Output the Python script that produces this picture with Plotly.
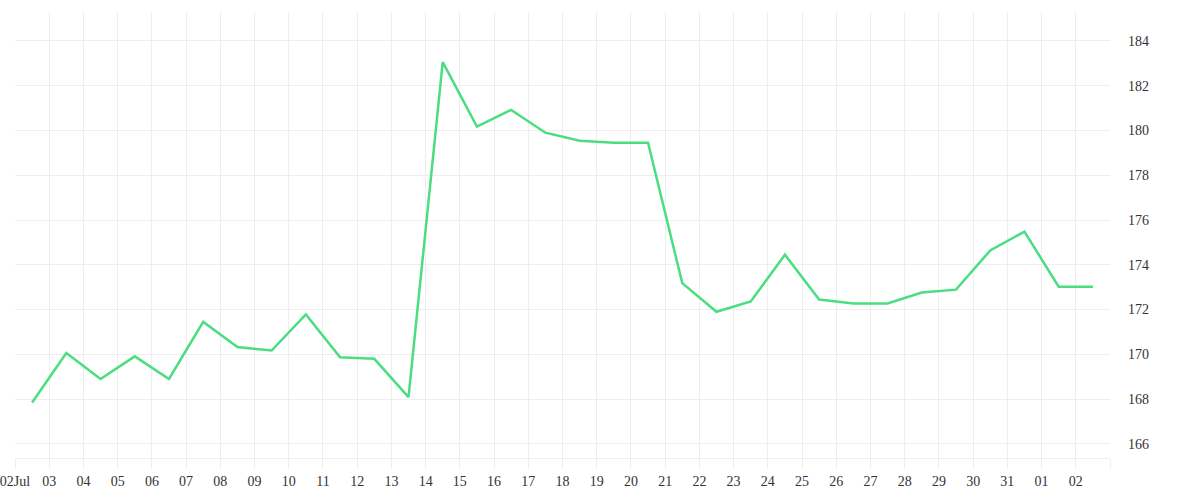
import plotly.graph_objects as go
import pandas as pd

# Data: daily values (points sit at midday of each day)
dates = pd.date_range("2024-07-02 12:00", periods=32, freq="D")
values = [167.85, 170.06, 168.9, 169.91, 168.9, 171.45, 170.33, 170.17,
          171.78, 169.87, 169.8, 168.09, 183.05, 180.17, 180.92, 179.9,
          179.54, 179.45, 179.45, 173.18, 171.9, 172.36, 174.45, 172.45,
          172.27, 172.27, 172.76, 172.89, 174.64, 175.48, 173.02, 173.02]

tick_dates = list(pd.date_range("2024-07-02", "2024-08-03", freq="D"))
tick_labels = ["02Jul"] + [d.strftime("%d") for d in tick_dates[1:-1]] + [""]
y_ticks = list(range(166, 186, 2))

fig = go.Figure()
fig.add_trace(go.Scatter(
    x=dates, y=values, mode="lines",
    line=dict(color="#4ade80", width=2.5),
    hoverinfo="x+y", showlegend=False,
))

font = dict(family="Liberation Serif", size=14, color="#333333")

fig.update_layout(
    width=1200, height=500,
    margin=dict(l=15, r=90, t=12, b=42),
    paper_bgcolor="white", plot_bgcolor="white",
    font=font,
    xaxis=dict(
        range=["2024-07-02", "2024-08-03"],
        tickmode="array", tickvals=tick_dates, ticktext=tick_labels,
        showgrid=True, gridcolor="#eeeeee", gridwidth=1,
        ticks="outside", ticklen=10, tickcolor="#eeeeee", tickwidth=1,
        showline=True, linecolor="#eeeeee", linewidth=1,
        zeroline=False, tickfont=font, automargin=False,
        ticklabeloverflow="allow",
    ),
    yaxis=dict(
        range=[165.37, 185.29], side="right",
        tickmode="array", tickvals=y_ticks,
        showgrid=True, gridcolor="#eeeeee", gridwidth=1,
        ticks="", ticklabelstandoff=17,
        showline=False, zeroline=False, tickfont=font, automargin=False,
        ticklabeloverflow="allow",
    ),
)

fig.write_html(
    "out.html",
    config={"displayModeBar": False},
    post_script="document.body.style.margin='0';document.body.style.padding='0';",
)
